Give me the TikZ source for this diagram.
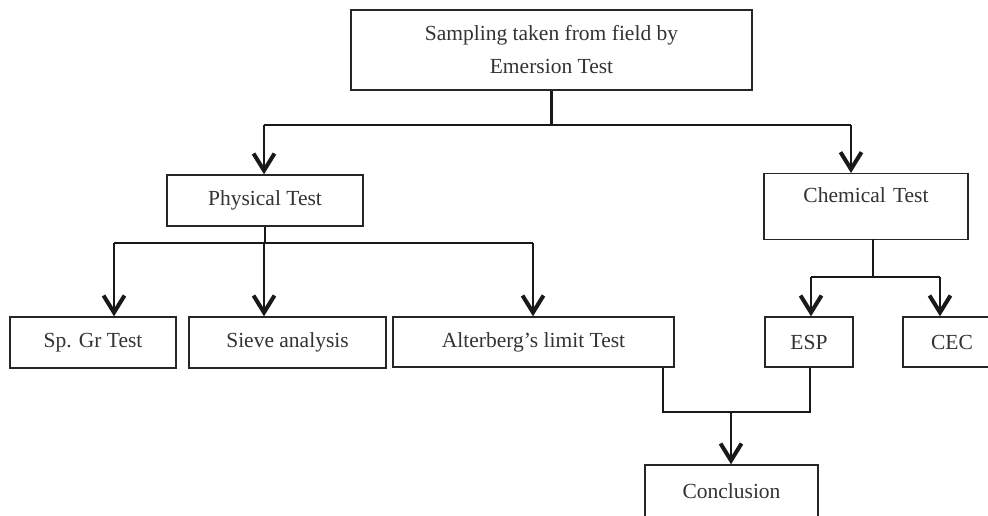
\documentclass[tikz,border=0pt]{standalone}
\usepackage{fontspec}
\setmainfont{Liberation Serif}
\usetikzlibrary{arrows.meta}
\begin{document}
\begin{tikzpicture}[x=1pt,y=-1pt,
  box/.style={draw=black!85, line width=1.4pt, inner sep=0pt, align=center,
    font=\fontsize{21.5}{33}\selectfont, text=black!80},
  conn/.style={line width=2.4pt, black!90},
  arr/.style={conn, -{Straight Barb[length=17pt,width=21pt,line width=4pt]}}]
\useasboundingbox (0,0) rectangle (988,515);
\fill[white] (0,0) rectangle (988,515);
\clip (0,0) rectangle (988,515);

\node[box, minimum width=401pt, minimum height=80pt] (top) at (551.5,50) {Sampling taken from field by\\Emersion Test};
\node[box, minimum width=196pt, minimum height=51pt] (phys) at (265,200.5) {Physical Test};
\node[box, minimum width=204pt, text height=29pt, text depth=37pt, text width=204pt, anchor=north] (chem) at (866,173) {Chemical Test};
\node[box, minimum width=166pt, minimum height=51pt] (spgr) at (93,342.5) {Sp. Gr Test};
\node[box, minimum width=197pt, minimum height=51pt] (sieve) at (287.5,342.5) {Sieve analysis};
\node[box, minimum width=281pt, minimum height=50pt] (alter) at (533.5,342) {Alterberg’s limit Test};
\node[box, minimum width=88pt, minimum height=50pt] (esp) at (809,342) {ESP};
\node[box, minimum width=98pt, minimum height=50pt] (cec) at (952,342) {CEC};
\node[box, minimum width=173pt, minimum height=52pt] (concl) at (731.5,491) {Conclusion};

% top bus
\coordinate (b1L) at (264,125);
\coordinate (b1R) at (851,125);
\draw[conn] (top.south) -- (top.south |- b1L);
\draw[conn] (b1L) -- (b1R);
\draw[arr] (b1L) -- (b1L |- phys.north);
\draw[arr] (b1R) -- (b1R |- chem.north);

% physical bus
\coordinate (b2L) at (114,243);
\coordinate (b2M) at (264,243);
\coordinate (b2R) at (533,243);
\draw[conn] (phys.south) -- (phys.south |- b2L);
\draw[conn] (b2L) -- (b2R);
\draw[arr] (b2L) -- (b2L |- spgr.north);
\draw[arr] (b2M) -- (b2M |- sieve.north);
\draw[arr] (b2R) -- (b2R |- alter.north);

% chemical bus
\coordinate (c1) at (873,239);
\coordinate (c2) at (873,277);
\coordinate (b3L) at (811,277);
\coordinate (b3R) at (940,277);
\draw[conn] (c1) -- (c2);
\draw[conn] (b3L) -- (b3R);
\draw[arr] (b3L) -- (b3L |- esp.north);
\draw[arr] (b3R) -- (b3R |- cec.north);

% conclusion
\coordinate (d1) at (663,412);
\coordinate (d2) at (810,412);
\coordinate (dM) at (731,412);
\draw[conn] (d1 |- alter.south) -- (d1) -- (d2) -- (d2 |- esp.south);
\draw[arr] (dM) -- (dM |- concl.north);
\end{tikzpicture}
\end{document}
